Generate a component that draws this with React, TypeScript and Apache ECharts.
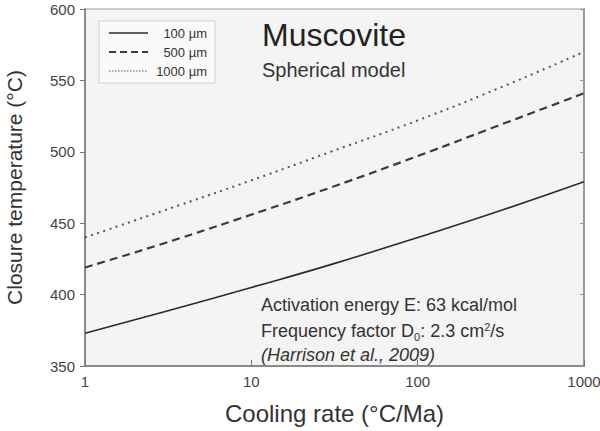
import React, { useEffect, useRef } from "react";
import * as echarts from "echarts";

const coolingRates = [1, 3, 10, 30, 100, 300, 1000];
const tc100 = [373, 388, 405, 421, 440, 458, 479];
const tc500 = [419, 436, 456, 475, 497, 518, 541];
const tc1000 = [440, 459, 480, 500, 522, 544, 570];
const seriesNames = ["100 µm", "500 µm", "1000 µm"];
const yTicks = [350, 400, 450, 500, 550, 600];
const xTicks = [1, 10, 100, 1000];

const FONT = "Liberation Sans, Arial, sans-serif";

export default function App() {
  const ref = useRef<HTMLDivElement>(null);
  useEffect(() => {
    if (!ref.current) return;
    const chart = echarts.init(ref.current, undefined, { renderer: "svg" });
    const mk = (arr: number[]) => coolingRates.map((x, i) => [x, arr[i]]);
    const styles: any[] = [
      { color: "#2b2b2b", width: 1.6, type: "solid" },
      { color: "#3a3a3a", width: 2.2, type: [8, 5] },
      { color: "#555555", width: 2, type: [2, 4.5] },
    ];
    const datas = [tc100, tc500, tc1000];
    const legX1 = 109, legX2 = 148, legTextX = 207;
    const legYs = [33, 52, 71];
    const legendGraphics: any[] = [
      {
        type: "rect",
        shape: { x: 99, y: 21, width: 116, height: 62 },
        style: { fill: "#fafafa", stroke: "#d0d0d0", lineWidth: 1 },
        z: 10,
      },
    ];
    seriesNames.forEach((n, i) => {
      legendGraphics.push({
        type: "line",
        shape: { x1: legX1, y1: legYs[i], x2: legX2, y2: legYs[i] },
        style: {
          stroke: styles[i].color,
          lineWidth: i === 2 ? 1 : styles[i].width,
          lineDash: i === 0 ? null : i === 1 ? [7, 4] : [1.5, 1.5],
        },
        z: 11,
      });
      legendGraphics.push({
        type: "text",
        x: legTextX,
        y: legYs[i],
        style: {
          text: n,
          fill: "#333",
          font: `13px ${FONT}`,
          align: "right",
          verticalAlign: "middle",
        },
        z: 11,
      });
    });
    chart.setOption({
      animation: false,
      textStyle: { fontFamily: FONT },
      grid: {
        left: 85,
        right: 16,
        top: 9,
        bottom: 65,
        containLabel: false,
        outerBoundsMode: "none",
        show: true,
        backgroundColor: "#f4f4f4",
        borderColor: "#9a9a9a",
        borderWidth: 1,
      },
      xAxis: {
        type: "log",
        logBase: 10,
        min: 1,
        max: 1000,
        name: "Cooling rate (°C/Ma)",
        nameLocation: "middle",
        nameGap: 35,
        nameTextStyle: { fontSize: 24, color: "#333", fontFamily: FONT },
        axisLine: { show: true, lineStyle: { color: "#8a8a8a", width: 2 } },
        axisTick: { show: true, inside: true, length: 6, lineStyle: { color: "#777" } },
        minorTick: { show: false },
        splitLine: { show: false },
        axisLabel: {
          color: "#444",
          fontSize: 15,
          margin: 8,
          formatter: (v: number) => (xTicks.includes(Math.round(v)) ? String(Math.round(v)) : ""),
        },
      },
      yAxis: [
        {
          type: "value",
          min: 350,
          max: 600,
          interval: 50,
          name: "Closure temperature (°C)",
          nameLocation: "middle",
          nameGap: 60,
          nameTextStyle: { fontSize: 21, color: "#333", fontFamily: FONT },
          axisLine: { show: true, lineStyle: { color: "#8a8a8a", width: 2 } },
          axisTick: { show: true, length: 5, lineStyle: { color: "#777" } },
          splitLine: { show: false },
          axisLabel: {
            color: "#444",
            fontSize: 15,
            margin: 10,
            formatter: (v: number) => (yTicks.includes(v) ? String(v) : ""),
          },
        },
        {
          type: "value",
          min: 350,
          max: 600,
          interval: 50,
          position: "right",
          axisLine: { show: true, lineStyle: { color: "#9a9a9a", width: 2 } },
          axisTick: { show: true, inside: true, length: 4, lineStyle: { color: "#999" } },
          axisLabel: { show: false },
          splitLine: { show: false },
        },
      ],
      series: seriesNames.map((n, i) => ({
        name: n,
        type: "line",
        yAxisIndex: 0,
        smooth: true,
        showSymbol: false,
        symbol: "none",
        data: mk(datas[i]),
        lineStyle: styles[i],
        z: 3,
      })),
      graphic: [
        ...legendGraphics,
        {
          type: "text",
          x: 262,
          y: 35,
          style: {
            text: "Muscovite",
            fill: "#222",
            font: `32px ${FONT}`,
            verticalAlign: "middle",
          },
          z: 11,
        },
        {
          type: "text",
          x: 262,
          y: 70,
          style: {
            text: "Spherical model",
            fill: "#333",
            font: `20px ${FONT}`,
            verticalAlign: "middle",
          },
          z: 11,
        },
        {
          type: "text",
          x: 261,
          y: 305,
          style: {
            text: "Activation energy E: 63 kcal/mol",
            fill: "#333",
            font: `18px ${FONT}`,
            verticalAlign: "middle",
          },
          z: 11,
        },
        {
          type: "text",
          x: 261,
          y: 331,
          style: {
            text: "{a|Frequency factor D}{s|0}{a|: 2.3 cm}{p|2}{a|/s}",
            fill: "#333",
            verticalAlign: "middle",
            rich: {
              a: { fontSize: 18, fontFamily: FONT, fill: "#333" },
              s: { fontSize: 11, fontFamily: FONT, fill: "#333", padding: [12, 0, 0, 0] },
              p: { fontSize: 11, fontFamily: FONT, fill: "#333", padding: [0, 0, 9, 0] },
            },
          },
          z: 11,
        },
        {
          type: "text",
          x: 261,
          y: 355,
          style: {
            text: "(Harrison et al., 2009)",
            fill: "#333",
            font: `italic 18px ${FONT}`,
            verticalAlign: "middle",
          },
          z: 11,
        },
      ],
    });
    return () => chart.dispose();
  }, []);
  return <div ref={ref} style={{ width: 600, height: 431, position: "absolute", left: 0, top: 0, background: "#fff" }} />;
}
